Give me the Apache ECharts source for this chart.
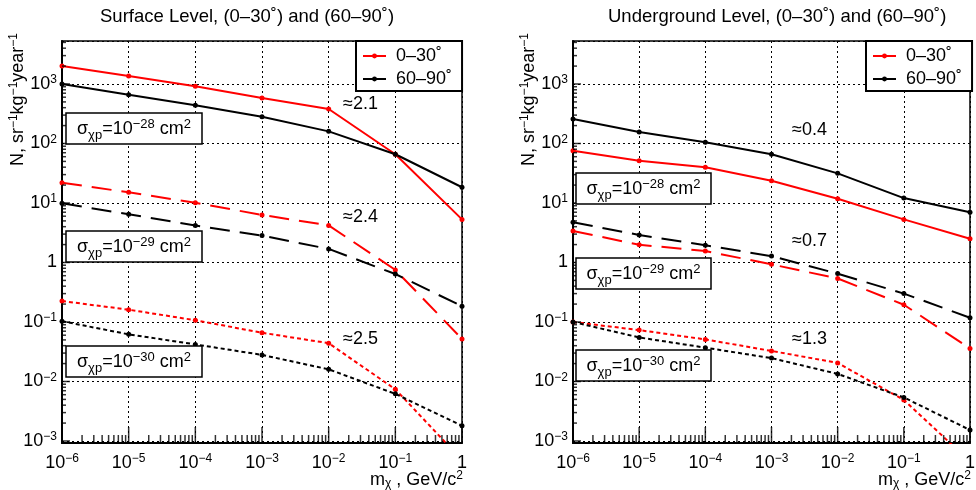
<!DOCTYPE html>
<html><head><meta charset="utf-8">
<script src="https://cdn.jsdelivr.net/npm/echarts@6/dist/echarts.min.js"></script>
<style>html,body{margin:0;padding:0;background:#fff}#c{width:976px;height:490px}</style>
</head><body><div id="c"></div>
<script>
// ---- data ----
const massTicks = [1e-6, 1e-5, 1e-4, 1e-3, 1e-2, 1e-1, 1];
const yTicks = [1e-3, 1e-2, 1e-1, 1, 10, 100, 1000];
// Surface level
const surf28_0_30  = [2000, 1360, 915, 580, 380, 66, 5.3];
const surf28_60_90 = [1000, 660, 440, 282, 160, 66, 18.4];
const surf29_0_30  = [21.9, 15.1, 10.1, 6.3, 4.2, 0.75, 0.052];
const surf29_60_90 = [9.9, 6.46, 4.2, 2.83, 1.69, 0.64, 0.184];
const surf30_0_30  = [0.225, 0.161, 0.107, 0.066, 0.044, 0.0074, 0.00048];
const surf30_60_90 = [0.103, 0.062, 0.042, 0.028, 0.016, 0.0062, 0.0018];
// Underground level
const und28_0_30  = [75.7, 51.4, 39.8, 23.7, 11.8, 5.3, 2.5];
const und28_60_90 = [258, 156, 105, 66, 31.5, 12.1, 7.0];
const und29_0_30  = [3.38, 1.99, 1.56, 0.93, 0.54, 0.195, 0.036];
const und29_60_90 = [4.74, 2.9, 1.95, 1.28, 0.65, 0.30, 0.118];
const und30_0_30  = [0.1, 0.073, 0.051, 0.0326, 0.0205, 0.0049, 0.00045];
const und30_60_90 = [0.1, 0.055, 0.037, 0.0247, 0.0134, 0.0054, 0.00153];

const legendNames = ['0–30˚', '60–90˚'];
const panelTitles = ['Surface Level, (0–30˚) and (60–90˚)', 'Underground Level, (0–30˚) and (60–90˚)'];
const ratiosSurface = ['≈2.1', '≈2.4', '≈2.5'];
const ratiosUnder = ['≈0.4', '≈0.7', '≈1.3'];
const crossSectionExp = ['−28', '−29', '−30'];
const yAxisTitle = 'N, sr{sup|−1}kg{sup|−1}year{sup|−1}';
const xAxisTitle = 'm{sub|χ} , GeV/c{sup|2}';

// ---- layout / style ----
const FONT = 'Liberation Sans, Arial, Helvetica, sans-serif';
const X_MIN = 1e-6, X_MAX = 1;
const Y_MIN = 9.25e-4, Y_MAX = 5281;
const grids = [
  {left: 62, top: 41, width: 400, height: 402},
  {left: 573, top: 41, width: 397, height: 402}
];
const RED = '#ff0000', BLACK = '#000000';

function minorTicks(lo, hi) {
  const out = [];
  for (let d = -7; d <= 4; d++) {
    for (let k = 2; k <= 9; k++) {
      const v = k * Math.pow(10, d);
      if (v > lo && v < hi) out.push(v);
    }
  }
  return out;
}
const xMinor = minorTicks(X_MIN, X_MAX);
const yMinor = minorTicks(Y_MIN, Y_MAX);

function expLabel(v) {
  const e = Math.round(Math.log10(v));
  if (e === 0) return '1';
  return '10{sup|' + (e < 0 ? '−' : '') + Math.abs(e) + '}';
}
const supRich = {
  sup: {fontSize: 12, lineHeight: 12, verticalAlign: 'top', fontFamily: FONT, color: '#000'},
  sub: {fontSize: 12, lineHeight: 12, verticalAlign: 'bottom', fontFamily: FONT, color: '#000'}
};

const xAxis = [], yAxis = [];
grids.forEach((g, gi) => {
  xAxis.push({
    type: 'log', gridIndex: gi, min: X_MIN, max: X_MAX, splitNumber: 6,
    axisLine: {show: true, lineStyle: {color: '#000', width: 2}},
    axisTick: {show: false},
    axisLabel: {show: true, customValues: massTicks, formatter: expLabel, margin: 10, fontSize: 18, lineHeight: 20,
      fontFamily: FONT, color: '#000', rich: supRich, hideOverlap: false},
    splitLine: {show: true, lineStyle: {color: '#000', width: 1, type: [2, 3]}},
    name: xAxisTitle, nameLocation: 'end', nameGap: 1, nameMoveOverlap: false,
    nameTextStyle: {fontSize: 18, lineHeight: 20, fontFamily: FONT, color: '#000', align: 'right', verticalAlign: 'top',
      padding: [27, 0, 0, 0], rich: supRich}
  });
  yAxis.push({
    type: 'log', gridIndex: gi, min: Y_MIN, max: Y_MAX, splitNumber: 7,
    axisLine: {show: true, lineStyle: {color: '#000', width: 2}},
    axisTick: {show: false},
    axisLabel: {show: true, customValues: yTicks, formatter: expLabel, margin: 5, fontSize: 18, lineHeight: 20,
      fontFamily: FONT, color: '#000', rich: supRich, hideOverlap: false},
    splitLine: {show: true, lineStyle: {color: '#000', width: 1, type: [2, 3]}},
    name: yAxisTitle, nameLocation: 'end', nameGap: 8, nameRotate: 90, nameMoveOverlap: false,
    nameTextStyle: {fontSize: 18, lineHeight: 20, fontFamily: FONT, color: '#000', align: 'right', verticalAlign: 'bottom',
      padding: [0, 0, 34, 0], rich: supRich}
  });
});

function line(name, ys, gi, dash, color) {
  return {
    type: 'line', name: name, xAxisIndex: gi, yAxisIndex: gi,
    data: massTicks.map((x, i) => [x, ys[i]]),
    symbol: 'circle', symbolSize: 5, showSymbol: true, clip: true, silent: true,
    lineStyle: {color: color, width: 2, type: dash},
    itemStyle: {color: color}
  };
}
// tick marks inside the frame (ROOT style): decades long, log minor ticks short
function tickSeries(gi, data, size, offset) {
  return {
    type: 'scatter', xAxisIndex: gi, yAxisIndex: gi, silent: true, clip: false, z: 3,
    symbol: 'rect', symbolSize: size, symbolOffset: offset,
    itemStyle: {color: '#000'}, emphasis: {disabled: true},
    data: data
  };
}
function ticksFor(gi) {
  return [
    tickSeries(gi, massTicks.map(v => [v, Y_MIN]), [1.5, 16], [0, -8]),
    tickSeries(gi, xMinor.map(v => [v, Y_MIN]), [1.5, 8], [0, -4]),
    tickSeries(gi, yTicks.map(v => [X_MIN, v]), [8, 1.5], [4, 0]),
    tickSeries(gi, yMinor.map(v => [X_MIN, v]), [4, 1.5], [2, 0])
  ];
}
const SOLID = 'solid', DASH = [20, 10], DOT = [4, 3];
const series = [
  line(legendNames[0], surf28_0_30, 0, SOLID, RED),
  line(legendNames[1], surf28_60_90, 0, SOLID, BLACK),
  line(legendNames[0], surf29_0_30, 0, DASH, RED),
  line(legendNames[1], surf29_60_90, 0, DASH, BLACK),
  line(legendNames[0], surf30_0_30, 0, DOT, RED),
  line(legendNames[1], surf30_60_90, 0, DOT, BLACK),
  line(legendNames[0], und28_0_30, 1, SOLID, RED),
  line(legendNames[1], und28_60_90, 1, SOLID, BLACK),
  line(legendNames[0], und29_0_30, 1, DASH, RED),
  line(legendNames[1], und29_60_90, 1, DASH, BLACK),
  line(legendNames[0], und30_0_30, 1, DOT, RED),
  line(legendNames[1], und30_60_90, 1, DOT, BLACK)
].concat(ticksFor(0), ticksFor(1));

function legend(left) {
  return {
    data: legendNames, left: left, top: 41, orient: 'vertical', selectedMode: false,
    padding: [5, 10, 2, 6], itemGap: 3, itemWidth: 23, itemHeight: 6,
    borderColor: '#000', borderWidth: 2, backgroundColor: '#fff',
    textStyle: {fontSize: 18, lineHeight: 20, fontFamily: FONT, color: '#000', padding: [0, 0, 0, 5]}
  };
}

const boxRich = {
  sup: {fontSize: 13, lineHeight: 12, verticalAlign: 'top', fontFamily: FONT, fill: '#000'},
  sub: {fontSize: 13, lineHeight: 16, verticalAlign: 'bottom', fontFamily: FONT, fill: '#000'}
};
function box(x, y, w, h, exp) {
  return {
    type: 'group', x: x, y: y, z: 50,
    children: [
      {type: 'rect', shape: {x: 0, y: 0, width: w, height: h}, style: {fill: '#fff', stroke: '#000', lineWidth: 1.5}, z: 50},
      {type: 'text', x: w / 2, y: h / 2 + 1, z: 51,
        style: {text: 'σ{sub|χp}=10{sup|' + exp + '} cm{sup|2}', fontSize: 18, lineHeight: 24, fontFamily: FONT, fill: '#000',
          align: 'center', verticalAlign: 'middle', rich: boxRich}}
    ]
  };
}
function ratio(x, y, txt) {
  return {type: 'text', x: x, y: y, z: 50,
    style: {text: txt, fontSize: 18, fontFamily: FONT, fill: '#000', align: 'left', verticalAlign: 'middle'}};
}
const boxYsLeft = [113, 231, 346], boxYsRight = [173, 258, 350];
const ratioYsLeft = [104, 217, 339], ratioYsRight = [130, 241, 339];
const graphic = [];
crossSectionExp.forEach((e, i) => {
  graphic.push(box(66, boxYsLeft[i], 136, 31, e));
  graphic.push(box(576, boxYsRight[i], 135, 31, e));
  graphic.push(ratio(343, ratioYsLeft[i], ratiosSurface[i]));
  graphic.push(ratio(792, ratioYsRight[i], ratiosUnder[i]));
});

const chart = echarts.init(document.getElementById('c'), null, {renderer: 'canvas'});
chart.setOption({
  animation: false,
  backgroundColor: '#fff',
  title: [
    {text: panelTitles[0], left: 100, top: 7, padding: 0, textStyle: {fontSize: 18.5, fontWeight: 'normal', fontFamily: FONT, color: '#000'}},
    {text: panelTitles[1], left: 608, top: 7, padding: 0, textStyle: {fontSize: 18.5, fontWeight: 'normal', fontFamily: FONT, color: '#000'}}
  ],
  grid: grids.map(g => Object.assign({show: true, borderColor: '#000', borderWidth: 1.5, outerBoundsMode: 'none'}, g)),
  legend: [legend(356), legend(866)],
  xAxis: xAxis,
  yAxis: yAxis,
  series: series,
  graphic: graphic
});
</script>
</body></html>
